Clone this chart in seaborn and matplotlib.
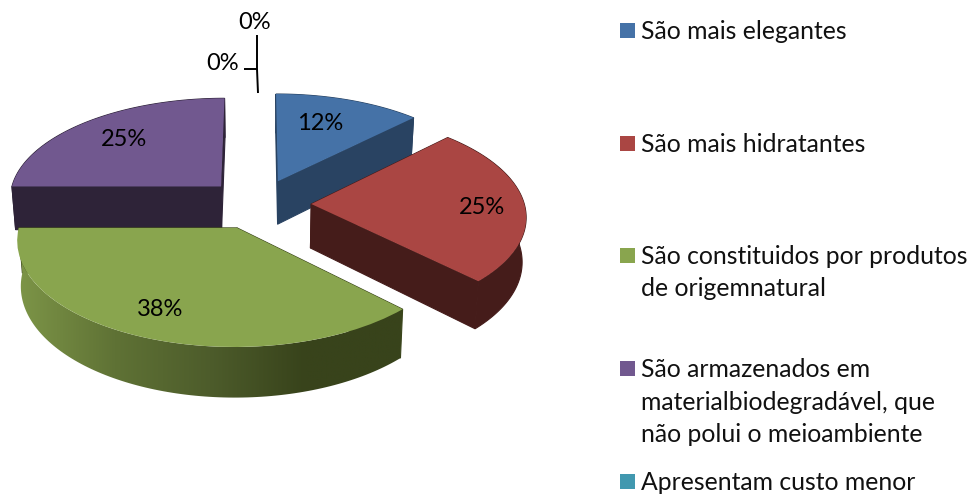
import numpy as np
import matplotlib
matplotlib.use("Agg")
import matplotlib.pyplot as plt
from matplotlib.patches import Rectangle
from matplotlib.transforms import Transform
import seaborn as sns

values = [12.5, 25, 37.5, 25, 0, 0]
categories = ["São mais elegantes", "São mais hidratantes",
              "São constituidos por produtos\nde origemnatural",
              "São armazenados em\nmaterialbiodegradável, que\nnão polui o meioambiente",
              "Apresentam custo menor"]
top_colors = ["#4572a7", "#aa4643", "#89a54e", "#71588f", "#4198af", "#db843d"]
wall_colors = ["#294362", "#451c1a", "#3a451c", "#2e2338", "#265a68", "#7f4c23"]
green_wall = ["#7c9447", "#5f7235", "#4d5c2b", "#38431b", "#38431b"]
label_xy = [(320, 124), (482, 207.5), (160, 309.5), (124, 139.5), (223, 63.5), (255, 22.5)]
legend_y = [30.5, 143.5, 255.5, 368.5, 481.5]

CX, CY, RX, RY, K, DEPTH, SHRINK = 258, 204, 213, 101, 0.106, 44, 0.985


class Tilt(Transform):
    input_dims = output_dims = 2

    def transform_non_affine(self, xy):
        xy = np.asarray(xy, float)
        w = 1 + K * xy[:, 1]
        return np.column_stack([CX + RX * xy[:, 0] / w, CY - RY * xy[:, 1] / w])


tilt = Tilt()


def lower(disc):
    disc = np.asarray(disc, float)
    s = tilt.transform_non_affine(disc)
    w = 1 + K * disc[:, 1]
    return np.column_stack([CX + (s[:, 0] - CX) * SHRINK, s[:, 1] + DEPTH / w])


sns.set_theme(style="white")
plt.rcParams["font.family"] = ["Lato", "DejaVu Sans"]

fig = plt.figure(figsize=(9.73, 4.95), dpi=100, facecolor="white")
ax = fig.add_axes([0, 0, 1, 1])
wedges, _ = ax.pie(values, colors=sns.color_palette(top_colors), startangle=90,
                   counterclock=False, explode=[0.25] * len(values),
                   wedgeprops={"linewidth": 0})

order = {0: 1, 3: 2, 1: 3, 2: 4}
for i, wedge in enumerate(wedges):
    if values[i] == 0:
        wedge.set_visible(False)
        continue
    z = order[i] * 10
    wedge.set_transform(tilt + ax.transData)
    wedge.set_zorder(z + 2)
    c = np.array(wedge.center)
    th = np.radians(np.linspace(wedge.theta1, wedge.theta2, 120))
    arc = c + np.column_stack([np.cos(th), np.sin(th)])
    col = wall_colors[i]
    # radial faces
    for end in (arc[0], arc[-1]):
        edge = np.array([c, end])
        top, bot = tilt.transform_non_affine(edge), lower(edge)
        ax.add_patch(plt.Polygon(np.vstack([top, bot[::-1]]), closed=True,
                                 fc=col, ec=col, lw=0.8, zorder=z))
    # rim
    top, bot = tilt.transform_non_affine(arc), lower(arc)
    outline = np.vstack([top, bot[::-1]])
    if i == 2:
        rim = plt.Polygon(outline, closed=True, fc="none", ec="none", zorder=z + 1)
        ax.add_patch(rim)
        ramp = sns.blend_palette(green_wall, 256, as_cmap=True)
        img = ax.imshow(np.linspace(0, 1, 256)[None, :], cmap=ramp, aspect="auto",
                        extent=(20, 400, 420, 220), zorder=z + 1)
        img.set_clip_path(rim)
    else:
        ax.add_patch(plt.Polygon(outline, closed=True, fc=col, ec=col, lw=0.8, zorder=z + 1))

ax.set_aspect("auto")
ax.set_xlim(0, 973)
ax.set_ylim(495, 0)
ax.axis("off")

for v, (x, y) in zip(values, label_xy):
    ax.text(x, y, f"{v:.0f}%", ha="center", va="center", fontsize=17, color="black", zorder=60)

ax.plot([257, 257, 258], [35, 69, 93], color="black", lw=1.4, zorder=60, solid_capstyle="butt")
ax.plot([244, 257], [69, 69], color="black", lw=1.4, zorder=60, solid_capstyle="butt")

for name, y, color in zip(categories, legend_y, top_colors):
    ax.add_patch(Rectangle((620, y - 7.5), 15, 15, fc=color, ec="none", zorder=60))
    ax.text(641, y - 10.5, name, ha="left", va="top", fontsize=17.8, color="#111111",
            linespacing=1.5, zorder=60)

fig.savefig("out.png", dpi=100, facecolor="white")
